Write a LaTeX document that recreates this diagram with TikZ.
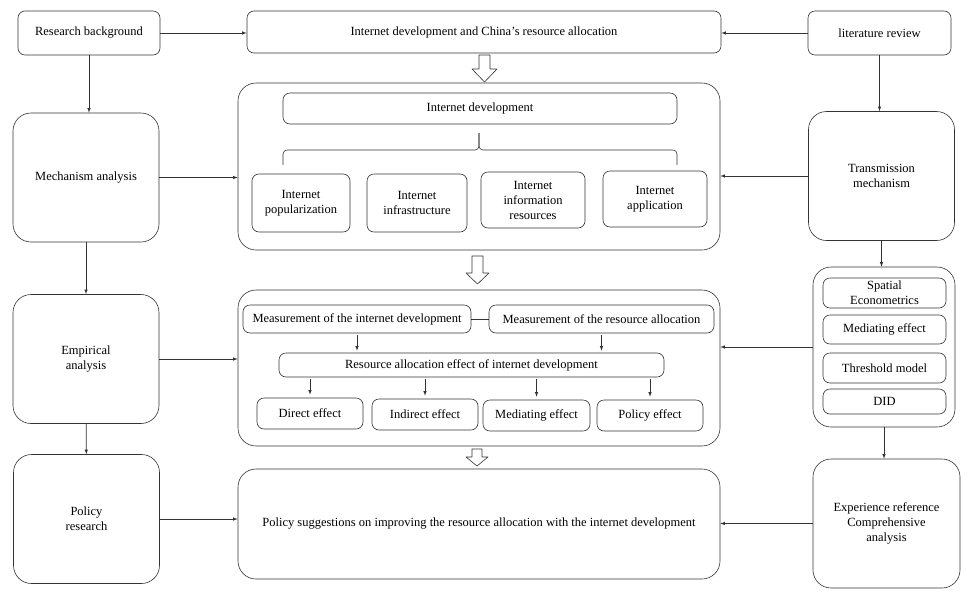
\documentclass[tikz,border=0pt]{standalone}
\usepackage{fontspec}
\setmainfont{Liberation Serif}
\begin{document}
\begin{tikzpicture}[x=1pt,y=-1pt,>=latex,line join=round,font=\fontsize{12.5}{15}\selectfont]
	\tikzset{every node/.style={align=center,inner sep=1pt}}
	\tikzset{box/.style={draw=black!80,line width=.6pt,rounded corners=7pt},
		side/.style={box,rounded corners=18pt,minimum width=146,minimum height=129},
		frame/.style={box,rounded corners=18pt,minimum width=482},
		hollow/.style={draw=black!80,line width=.6pt,fill=white},
		link/.style={->,draw=black!80,line width=.6pt}}
	\useasboundingbox (0,0) rectangle (971,600);
	
	% --- Top row ---
	\node[box,minimum width=142,minimum height=44] (rb) at (89,33) {Research background};
	\node[box,minimum width=474,minimum height=42] (topic) at (484,32) {Internet development and China's resource allocation};
	\node[box,minimum width=143,minimum height=44] (lr) at (879.5,33) {literature review};
	
	% --- Left column ---
	\node[side] (mech) at (86,177.5) {Mechanism analysis};
	\node[side] (emp) at (86,359) {Empirical\\analysis};
	\node[side] (polr) at (86.5,519) {Policy\\research};
	
	% --- Right column ---
	\node[side] (trans) at (881.5,176) {Transmission\\mechanism};
	\node[box,rounded corners=18pt,minimum width=142,minimum height=160] (meth) at (884,347) {};
	\node[box,inner sep=0pt,minimum width=123,minimum height=30] (spat) at (884.5,293) {Spatial\\Econometrics};
	\node[box,minimum width=123,minimum height=29] (medm) at (884.5,329.5) {Mediating effect};
	\node[box,minimum width=123,minimum height=30] (thr) at (884.5,368) {Threshold model};
	\node[box,minimum width=123,minimum height=25] (did) at (884.5,401.5) {DID};
	\node[side,minimum width=147] (exp) at (886.5,523.5) {Experience reference\\Comprehensive\\analysis};
	
	% --- Frame 1: internet development ---
	\node[frame,minimum height=167] (f1) at (479,166.5) {};
	\node[box,minimum width=394,minimum height=31] (idev) at (480,108.5) {Internet development};
	\node[box,minimum width=98,minimum height=58] (pop) at (301,203) {Internet\\popularization};
	\node[box,minimum width=100,minimum height=58] (infra) at (417,203) {Internet\\infrastructure};
	\node[box,minimum width=104,minimum height=56] (info) at (533,200) {Internet\\information\\resources};
	\node[box,minimum width=104,minimum height=56] (app) at (655,199) {Internet\\application};
	\draw[draw=black!80,line width=.6pt,rounded corners=4pt] (283,165) -- (283,150) -- (479,150) -- (479,133);
	\draw[draw=black!80,line width=.6pt,rounded corners=4pt] (677,165) -- (677,150) -- (479,150) -- (479,133);
	
	% --- Frame 2: empirical part ---
	\node[frame,minimum height=156] (f2) at (479,368) {};
	\node[box,minimum width=228,minimum height=28] (mid) at (357,319) {Measurement of the internet development};
	\node[box,minimum width=225,minimum height=28] (mra) at (601.5,319) {Measurement of the resource allocation};
	\node[box,minimum width=385,minimum height=24] (rae) at (471.5,365) {Resource allocation effect of internet development};
	\node[box,minimum width=106,minimum height=31] (direct) at (310,413.5) {Direct effect};
	\node[box,minimum width=106,minimum height=31] (indirect) at (425,414.5) {Indirect effect};
	\node[box,minimum width=107,minimum height=31] (medi) at (536.5,415.5) {Mediating effect};
	\node[box,minimum width=106,minimum height=31] (pol) at (650,415.5) {Policy effect};
	\draw[draw=black!80,line width=.6pt] (mid) -- (mra);
	\draw[link,shorten <=2pt,shorten >=2pt] (mid.south) -- (mid.south |- rae.north);
	\draw[link,shorten <=2pt,shorten >=2pt] (mra.south) -- (mra.south |- rae.north);
	\foreach \b in {direct,indirect,medi,pol}
		\draw[link,shorten <=2pt,shorten >=3pt] (rae.south -| \b.north) -- (\b.north);
	
	% --- Frame 3: policy suggestions ---
	\node[frame,minimum height=110] (f3) at (479,524) {Policy suggestions on improving the resource allocation with the internet development};
	
	% --- Hollow arrows ---
	\draw[hollow] (479,55) -- (490,55) -- (490,69) -- (497,69) -- (484.5,82) -- (472,69) -- (479,69) -- cycle;
	\draw[hollow] (472,256) -- (483,256) -- (483,273) -- (489,273) -- (477.5,284) -- (466,273) -- (472,273) -- cycle;
	\draw[hollow] (472,449) -- (482,449) -- (482,457) -- (488,457) -- (477,466) -- (466,457) -- (472,457) -- cycle;
	
	% --- Connectors ---
	\draw[link] (rb) -- (rb -| topic.west);
	\draw[link] (lr) -- (lr -| topic.east);
	\draw[link] (rb.south) -- (rb.south |- mech.north);
	\draw[link] (lr.south) -- (lr.south |- trans.north);
	\draw[link] (mech) -- (emp);
	\draw[link] (emp) -- (polr);
	\draw[link] (trans.south) -- (trans.south |- meth.north);
	\draw[link] (meth.south) -- (meth.south |- exp.north);
	\draw[link] (mech) -- (mech -| f1.west);
	\draw[link] (emp) -- (emp -| f2.west);
	\draw[link] (polr) -- (polr -| f3.west);
	\draw[link] (trans) -- (trans -| f1.east);
	\draw[link] (meth) -- (meth -| f2.east);
	\draw[link] (exp) -- (exp -| f3.east);
\end{tikzpicture}
\end{document}
